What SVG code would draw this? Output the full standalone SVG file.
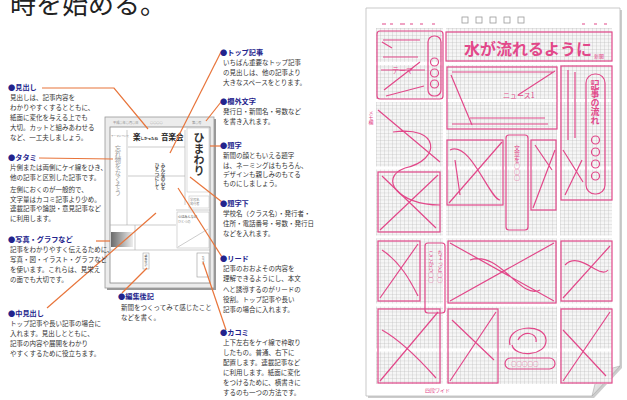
<svg xmlns="http://www.w3.org/2000/svg" width="627" height="400" viewBox="0 0 627 400">
<defs>
<style>
.lbl{font-family:"Noto Sans CJK JP","Noto Sans",sans-serif;font-size:7.2px;font-weight:bold;fill:#23238c}
.bd{font-family:"Noto Sans CJK JP","Noto Sans",sans-serif;font-size:6.5px;fill:#333}
.con{stroke:#e8743a;stroke-width:1.2;fill:none}
.gl{stroke:#aaa;stroke-width:0.6;fill:none}
.tiny{font-family:"Noto Sans CJK JP",sans-serif;font-size:3.2px;fill:#888}
.vt{writing-mode:vertical-rl;text-orientation:upright}
.pk{stroke:#e2488a;stroke-width:1.2;fill:none}
.pt{font-family:"Noto Sans CJK JP",sans-serif;fill:#e2488a}
</style>
<pattern id="grid" width="4" height="3.5" patternUnits="userSpaceOnUse">
<rect width="4" height="3.5" fill="#f6f6f6"/>
<path d="M0,0H4M0,0V3.5" stroke="#b8b8b8" stroke-width="0.6"/>
</pattern>
<linearGradient id="ph" x1="0" y1="0" x2="1" y2="0">
<stop offset="0" stop-color="#6a6a6a"/><stop offset="1" stop-color="#eee"/>
</linearGradient>
<linearGradient id="curl" x1="0" y1="0" x2="1" y2="1">
<stop offset="0" stop-color="#fff"/><stop offset="1" stop-color="#bbb"/>
</linearGradient>
</defs>
<rect width="627" height="400" fill="#fff"/>
<text x="10" y="14" font-family="Noto Sans CJK JP,sans-serif" font-size="26" fill="#222">時を始める。</text>

<!-- newspaper mock -->
<g id="newspaper">
<rect x="107" y="119" width="109" height="171" fill="#999"/>
<rect x="105" y="117" width="109" height="171" fill="#ececec" stroke="#999" stroke-width="0.8"/>
<rect x="110" y="127" width="100" height="156" fill="#fff" stroke="#888" stroke-width="0.8"/>
<text class="tiny" x="113" y="124">平成○年○月○日</text>
<text class="tiny" x="150" y="124">○○○○</text>
<text class="tiny" x="192" y="124">第○号</text>
<path class="gl" d="M127,130V225M128,147H185M185,130V205M128,176H185M110,225H176M176,210H210M110,250H210M135,225V250"/>
<text class="tiny" x="111" y="137" style="font-size:2.6px">テーマについて</text>
<text class="vt" x="118" y="145" font-family="Noto Sans CJK JP,sans-serif" font-size="6.3" fill="#999">忘れ物をなくそう</text>
<text x="133" y="140" font-family="Noto Sans CJK JP,sans-serif" font-weight="bold" fill="#222"><tspan font-size="7.5">楽</tspan><tspan font-size="3.5">しかったね</tspan><tspan font-size="7.5" dx="3">音楽会</tspan></text>
<text class="vt" x="163" y="163" font-family="Noto Sans CJK JP,sans-serif" font-size="4.5" font-weight="bold" fill="#555">みんなの心を</text>
<text class="vt" x="157" y="163" font-family="Noto Sans CJK JP,sans-serif" font-size="4.5" font-weight="bold" fill="#555">ひとつにして</text>
<rect x="187" y="128" width="22" height="64" fill="none" stroke="#bbb" stroke-width="0.5"/>
<text class="vt" x="199" y="132" font-family="Noto Sans CJK JP,sans-serif" font-size="11" font-weight="bold" fill="#333">ひまわり</text>
<rect x="189" y="196" width="20" height="12" fill="none" stroke="#bbb" stroke-width="0.5"/>
<text class="tiny" x="190" y="201">学校名</text><text class="tiny" x="190" y="205">発行者</text>
<rect x="111" y="232" width="22" height="15" fill="url(#ph)"/>
<rect x="177" y="212" width="32" height="36" fill="none" stroke="#bbb" stroke-width="0.6"/>
<text class="tiny" x="178" y="218" fill="#555" font-weight="bold">心はみんなの</text>
<text class="tiny" x="178" y="223" fill="#555">ひとつの</text>
<path class="gl" d="M178,247L208,229"/>
<rect x="143" y="253" width="6" height="16" fill="#fff" stroke="#999" stroke-width="0.5"/>
<text class="vt" x="146" y="255" font-family="Noto Sans CJK JP,sans-serif" font-size="2.8" fill="#555">編集後記</text>
<rect x="197" y="253" width="12" height="24" fill="#fff" stroke="#999" stroke-width="0.6"/>
<text class="vt" x="203" y="256" font-family="Noto Sans CJK JP,sans-serif" font-size="3" fill="#555">カコミ</text>
</g>

<g id="connectors">
<polyline class="con" points="42,88 114,88 148,129"/>
<line class="con" x1="39" y1="158" x2="113" y2="159"/>
<line class="con" x1="96" y1="241" x2="110" y2="241"/>
<line class="con" x1="47" y1="308" x2="156" y2="213"/>
<line class="con" x1="221" y1="52" x2="170" y2="153"/>
<line class="con" x1="221" y1="102" x2="206" y2="121"/>
<line class="con" x1="210" y1="146" x2="222" y2="146"/>
<line class="con" x1="190" y1="177" x2="222" y2="202"/>
<line class="con" x1="222" y1="257" x2="178" y2="188"/>
<line class="con" x1="203" y1="262" x2="226" y2="330"/>
<line class="con" x1="122" y1="293" x2="147" y2="268"/>
</g>

<g id="midashi"><text class="lbl" x="8" y="90">●見出し</text>
<text class="bd"><tspan x="10" y="100">見出しは、記事内容を</tspan><tspan x="10" y="110">わかりやすくするとともに、</tspan><tspan x="10" y="120">紙面に変化を与える上でも</tspan><tspan x="10" y="130">大切。カットと組みあわせる</tspan><tspan x="10" y="140">など、一工夫しましょう。</tspan></text></g>
<g id="tatami"><text class="lbl" x="8" y="160">●タタミ</text>
<text class="bd"><tspan x="10" y="170">片側または両側にケイ線をひき、</tspan><tspan x="10" y="180">他の記事と区別した記事です。</tspan><tspan x="10" y="192">左側におくのが一般的で、</tspan><tspan x="10" y="202">文字量はカコミ記事より少め。</tspan><tspan x="10" y="211">連載記事や論説・意見記事など</tspan><tspan x="10" y="221">に利用します。</tspan></text></g>
<g id="shashin"><text class="lbl" x="8" y="242">●写真・グラフなど</text>
<text class="bd"><tspan x="10" y="252">記事をわかりやすく伝えるために、</tspan><tspan x="10" y="262">写真・図・イラスト・グラフなど</tspan><tspan x="10" y="272">を使います。これらは、見栄え</tspan><tspan x="10" y="282">の面でも大切です。</tspan></text></g>
<g id="nakamidashi"><text class="lbl" x="8" y="316">●中見出し</text>
<text class="bd"><tspan x="10" y="326">トップ記事や長い記事の場合に</tspan><tspan x="10" y="336">入れます。見出しとともに、</tspan><tspan x="10" y="346">記事の内容や展開をわかり</tspan><tspan x="10" y="356">やすくするために役立ちます。</tspan></text></g>
<g id="henshukoki"><text class="lbl" x="118" y="299">●編集後記</text>
<text class="bd"><tspan x="121" y="310">新聞をつくってみて感じたこと</tspan><tspan x="121" y="320">などを書く。</tspan></text></g>
<g id="top"><text class="lbl" x="220" y="55">●トップ記事</text>
<text class="bd"><tspan x="223" y="65">いちばん重要なトップ記事</tspan><tspan x="223" y="75">の見出しは、他の記事より</tspan><tspan x="223" y="85">大きなスペースをとります。</tspan></text></g>
<g id="rangai"><text class="lbl" x="220" y="104">●欄外文字</text>
<text class="bd"><tspan x="223" y="114">発行日・新聞名・号数など</tspan><tspan x="223" y="124">を書き入れます。</tspan></text></g>
<g id="daiji"><text class="lbl" x="220" y="148">●題字</text>
<text class="bd"><tspan x="223" y="158">新聞の顔ともいえる題字</tspan><tspan x="223" y="168">は、ネーミングはもちろん、</tspan><tspan x="223" y="177">デザインも親しみのもてる</tspan><tspan x="223" y="186">ものにしましょう。</tspan></text></g>
<g id="daijishita"><text class="lbl" x="220" y="206">●題字下</text>
<text class="bd"><tspan x="223" y="216">学校名（クラス名）・発行者・</tspan><tspan x="223" y="226">住所・電話番号・号数・発行日</tspan><tspan x="223" y="236">などを入れます。</tspan></text></g>
<g id="lead"><text class="lbl" x="220" y="261">●リード</text>
<text class="bd"><tspan x="223" y="271">記事のおおよその内容を</tspan><tspan x="223" y="281">理解できるようにし、本文</tspan><tspan x="223" y="292">へと誘導するのがリードの</tspan><tspan x="223" y="302">役割。トップ記事や長い</tspan><tspan x="223" y="312">記事の場合に入れます。</tspan></text></g>
<g id="kakomi"><text class="lbl" x="220" y="335">●カコミ</text>
<text class="bd"><tspan x="223" y="345">上下左右をケイ線で枠取り</tspan><tspan x="223" y="355">したもの。普通、右下に</tspan><tspan x="223" y="365">配置します。連載記事など</tspan><tspan x="223" y="375">に利用します。紙面に変化</tspan><tspan x="223" y="385">をつけるために、横書きに</tspan><tspan x="223" y="395">するのも一つの方法です。</tspan></text></g>

<!-- layout sheet -->
<g id="sheet">
<path d="M368,10H622V368L594,398H368Z" fill="#ccc"/>
<path d="M366,8H620V366L592,396H366Z" fill="#fff" stroke="#bbb" stroke-width="0.8"/>
<path d="M620,366L592,396L598,372Z" fill="url(#curl)" stroke="#aaa" stroke-width="0.6"/>
<rect x="376" y="28" width="236" height="356" fill="url(#grid)"/>
<path d="M376,63.5H612M376,100.5H612M376,168H612M376,237H612M376,305H612M376,350H612M444.5,28V384M558.5,63V384" stroke="#fff" stroke-width="3"/>
<g fill="none" stroke="#999" stroke-width="0.8">
<rect x="462" y="17" width="6" height="6"/><rect x="476" y="17" width="6" height="6"/><rect x="490" y="17" width="6" height="6"/><rect x="504" y="17" width="6" height="6"/><rect x="518" y="17" width="6" height="6"/>
</g>
<path class="pk" stroke-width="0.8" d="M382,24h4M390,24h3M400,24h5M410,24h3M420,24h3M432,24h3M582,24h3M594,24h3M604,24h3"/>
<rect class="pk" x="377" y="31" width="66" height="68" rx="3"/>
<rect class="pk" x="428" y="36" width="13" height="60" rx="6"/>
<circle class="pk" cx="434.5" cy="62" r="4"/><circle class="pk" cx="434.5" cy="73" r="4"/><circle class="pk" cx="434.5" cy="84" r="4"/>
<path class="pk" d="M383,40H420M383,57H418M384,90L420,62M386,96L424,86M382,42L392,48M381,70H425"/>
<text class="pt" x="392" y="73" font-size="7">テーマ</text>
<rect class="pk" x="446" y="32" width="166" height="29"/>
<text class="pt" x="464" y="55" font-size="16" font-weight="bold">水が流れるように</text>
<text class="pt" x="594" y="58" font-size="5">新聞</text>
<rect class="pk" x="447" y="67" width="110" height="62"/>
<path class="pk" d="M452,72H553M451,75L472,125M555,71L518,95M470,118H545M452,124L548,124"/>
<text class="pt" x="503" y="98" font-size="7">ニュース1</text>
<rect class="pk" x="561" y="66" width="51" height="134"/>
<rect class="pk" x="586" y="74" width="19" height="120" rx="9"/>
<text class="pt vt" x="595" y="80" font-size="9" font-weight="bold">記事の流れ</text>
<circle class="pk" cx="595.5" cy="140" r="4"/><circle class="pk" cx="595.5" cy="152" r="4"/><circle class="pk" cx="595.5" cy="164" r="4"/><circle class="pk" cx="595.5" cy="176" r="4"/>
<path class="pk" d="M568,70V140M575,72V138M563,150L583,182M565,195L582,160"/>
<path class="pk" d="M393,132C440,125 442,160 405,168C378,178 398,205 440,205M378,110L440,162"/>
<rect class="pk" x="447" y="140" width="56" height="65"/>
<path class="pk" d="M449,203L502,142M450,150C470,140 490,200 500,200M455,160L460,195"/>
<rect class="pk" x="506" y="135" width="22" height="95" rx="3"/>
<text class="pt vt" x="517" y="145" font-size="6">文章を○○○</text>
<rect class="pk" x="531" y="140" width="25" height="70"/>
<path class="pk" d="M533,208L555,150M535,145L552,170"/>
<rect class="pk" x="378" y="172" width="62" height="60"/>
<path class="pk" d="M380,230L438,175M382,176L436,228"/>
<rect class="pk" x="378" y="241" width="42" height="60"/>
<path class="pk" d="M380,298L418,244M382,250C400,262 410,280 418,296"/>
<rect class="pk" x="425" y="243" width="20" height="70" rx="3"/>
<text class="pt vt" x="431" y="250" font-size="5.5">ここから○○</text>
<text class="pt vt" x="440" y="250" font-size="5.5">ちょっと○○</text>
<rect class="pk" x="448" y="241" width="108" height="62"/>
<path class="pk" d="M450,301L554,243M450,243L554,301M470,260C500,250 520,300 540,290"/>
<rect class="pk" x="561" y="241" width="51" height="60"/>
<path class="pk" d="M563,298L610,246M565,265C580,250 600,280 608,270"/>
<rect class="pk" x="378" y="309" width="62" height="74"/>
<path class="pk" d="M380,381L438,312M382,330C400,340 420,360 436,378"/>
<rect class="pk" x="448" y="309" width="50" height="74"/>
<path class="pk" d="M450,381L496,312M452,320L494,360"/>
<path class="pk" d="M510,345C505,325 545,322 546,340C547,356 515,358 512,345M518,340C522,330 538,332 536,342"/>
<rect class="pk" x="505" y="358" width="50" height="11" rx="5.5"/>
<text class="pt" x="511" y="366" font-size="5.5">○○○○○</text>
<rect class="pk" x="561" y="309" width="51" height="74"/>
<path class="pk" d="M563,381L610,312M563,330L606,376"/>
<text class="pt vt" x="371" y="110" font-size="5">メモ欄</text>
<text class="pt" x="425" y="392" font-size="5">四段ワイド</text>
</g>
</svg>
